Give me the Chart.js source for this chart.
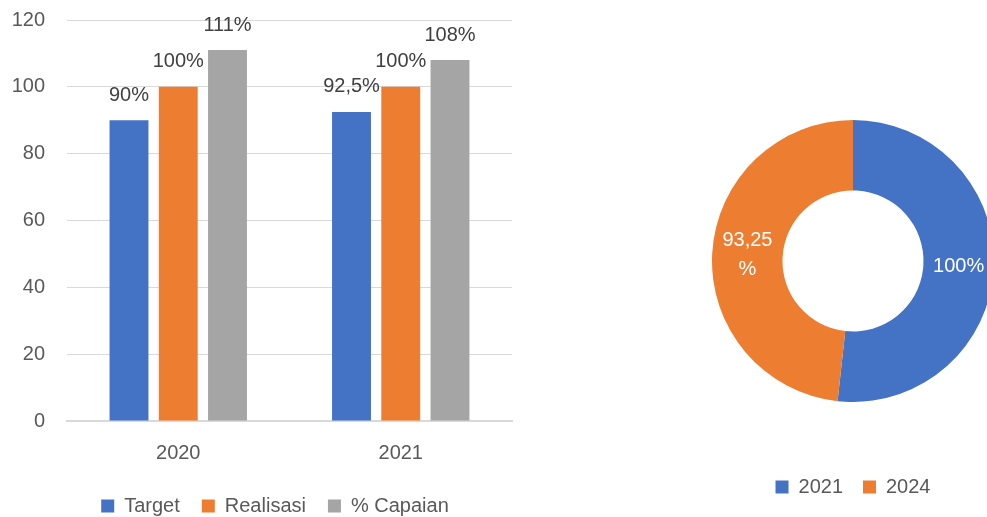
<!DOCTYPE html>
<html><head><meta charset="utf-8">
<script src="https://cdn.jsdelivr.net/npm/chart.js@4.4.1/dist/chart.umd.min.js"></script>
<style>
html,body{margin:0;padding:0;width:987px;height:517px;overflow:hidden;background:#fff;}
#bar{position:absolute;left:0;top:0;width:530px;height:526px;}
#donut{position:absolute;left:711px;top:0;width:284px;height:517px;}
</style></head><body>
<canvas id="bar" width="530" height="526"></canvas>
<canvas id="donut" width="284" height="517"></canvas>
<script>
const categories = ['2020', '2021'];
const targetValues = [90, 92.5];
const realisasiValues = [100, 100];
const capaianValues = [111, 108];
const seriesNames = ['Target', 'Realisasi', '% Capaian'];
const yTicks = [0, 20, 40, 60, 80, 100, 120];
const donutCategories = ['2021', '2024'];
const donutValues = [100, 93.25];

const BLUE = '#4472C4', ORANGE = '#ED7D31', GRAY = '#A5A5A5';
Chart.defaults.font.family = '"Liberation Sans", Arial, sans-serif';
Chart.defaults.font.size = 20;
Chart.defaults.color = '#595959';

const fmt = v => String(v).replace('.', ',') + '%';

const barLabels = {
  id: 'barLabels',
  afterLayout(chart) {
    if (chart.legend) { chart.legend.left += 38; }
  },
  afterDatasetsDraw(chart) {
    const ctx = chart.ctx;
    ctx.save();
    ctx.font = '20px "Liberation Sans", Arial, sans-serif';
    ctx.fillStyle = '#404040';
    ctx.textAlign = 'center';
    ctx.textBaseline = 'middle';
    chart.data.datasets.forEach((ds, i) => {
      chart.getDatasetMeta(i).data.forEach((el, j) => {
        ctx.fillText(fmt(ds.data[j]), el.x, el.y - 25);
      });
    });
    ctx.restore();
  }
};

new Chart(document.getElementById('bar'), {
  type: 'bar',
  data: {
    labels: categories,
    datasets: [
      { label: seriesNames[0], data: targetValues, backgroundColor: BLUE },
      { label: seriesNames[1], data: realisasiValues, backgroundColor: ORANGE },
      { label: seriesNames[2], data: capaianValues, backgroundColor: GRAY }
    ]
  },
  options: {
    responsive: false,
    animation: false,
    categoryPercentage: 0.664,
    barPercentage: 0.79,
    layout: { padding: { top: 20, left: 0, right: 18, bottom: 0 } },
    scales: {
      x: {
        grid: { display: false, drawTicks: false },
        border: { display: true, color: '#d9d9d9', width: 2 },
        ticks: { padding: 20, color: '#595959' },
        afterFit(s) { s.height = 53; s.paddingLeft = 0; s.paddingRight = 0; }
      },
      y: {
        min: yTicks[0], max: yTicks[yTicks.length - 1],
        ticks: { stepSize: yTicks[1] - yTicks[0], padding: 22, color: '#595959' },
        grid: { color: '#d9d9d9', lineWidth: 1, drawTicks: false },
        border: { display: false },
        afterFit(s) { s.width = 67; s.paddingTop = 0; s.paddingBottom = 0; }
      }
    },
    plugins: {
      legend: {
        position: 'bottom',
        labels: { boxWidth: 13, boxHeight: 13, padding: 22, color: '#595959' }
      },
      tooltip: { enabled: false }
    }
  },
  plugins: [barLabels]
});

const donutLabels = {
  id: 'donutLabels',
  afterDatasetsDraw(chart) {
    const ctx = chart.ctx;
    ctx.save();
    ctx.font = '20px "Liberation Sans", Arial, sans-serif';
    ctx.fillStyle = '#ffffff';
    ctx.textAlign = 'center';
    ctx.textBaseline = 'middle';
    const ds = chart.data.datasets[0];
    chart.getDatasetMeta(0).data.forEach((arc, i) => {
      const p = arc.tooltipPosition();
      const txt = fmt(ds.data[i]);
      let lines = [txt];
      if (ctx.measureText(txt).width > 60) lines = [txt.slice(0, -1), '%'];
      const lh = 29;
      lines.forEach((ln, k) => {
        ctx.fillText(ln, p.x, p.y + (k - (lines.length - 1) / 2) * lh);
      });
    });
    ctx.restore();
  }
};

new Chart(document.getElementById('donut'), {
  type: 'doughnut',
  data: {
    labels: donutCategories,
    datasets: [{ data: donutValues, backgroundColor: [BLUE, ORANGE], borderWidth: 0 }]
  },
  options: {
    responsive: false,
    animation: false,
    cutout: '50%',
    layout: { padding: { top: 120, bottom: 10, left: 0, right: 0 } },
    plugins: {
      legend: {
        position: 'bottom',
        title: { display: true, text: '', font: { size: 10, lineHeight: 1 }, padding: { top: 45, bottom: 0 } },
        labels: { boxWidth: 13, boxHeight: 13, padding: 20, color: '#595959' }
      },
      tooltip: { enabled: false }
    }
  },
  plugins: [donutLabels]
});
</script>
</body></html>
